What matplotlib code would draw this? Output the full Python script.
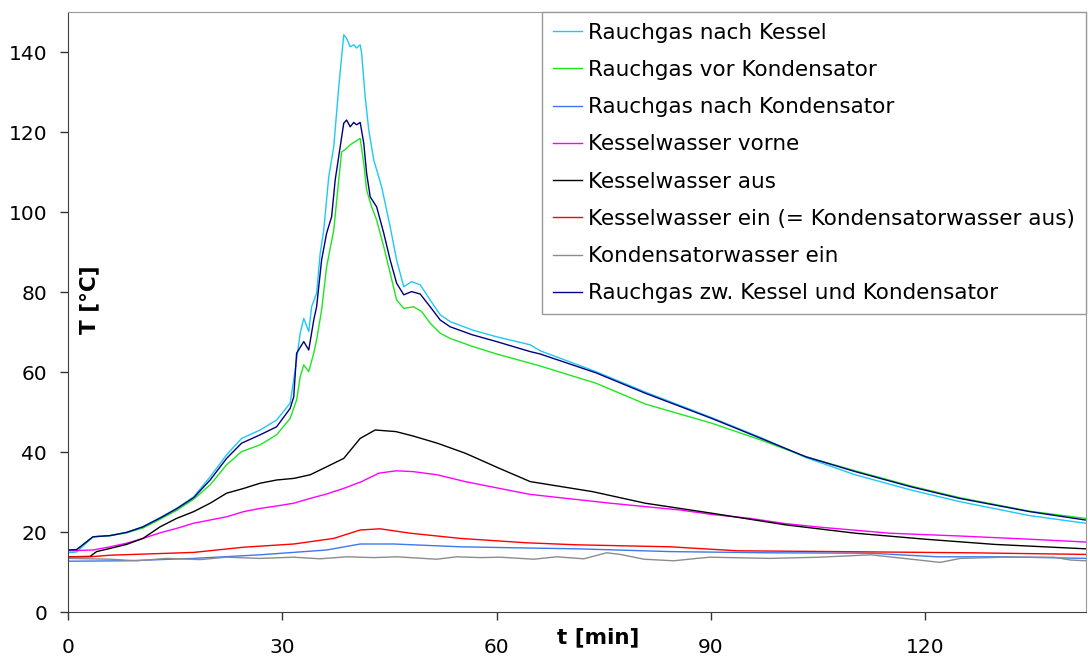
import matplotlib
matplotlib.use("Agg")
import matplotlib.pyplot as plt

plt.rcParams['font.family'] = ['DejaVu Sans']

# Messwerte (t in min, T in °C)
t_rg_nach_kessel = [0, 1.2, 3.5, 5.9, 8.2, 10.5, 12.9, 15.2, 17.6, 19.9, 22.2, 24.3, 26.9, 29.2, 31.1,
                    31.8, 32.5, 33.0, 33.7, 34.1, 34.8, 35.3, 35.8, 36.5, 37.2, 37.9, 38.6, 39.0, 39.5,
                    40.0, 40.4, 40.9, 41.1, 41.6, 42.1, 42.8, 43.9, 45.1, 46.0, 47.0, 48.1, 49.3, 50.7,
                    52.1, 53.5, 56.6, 60.0, 64.7, 66.1, 73.9, 80.8, 90.1, 97.0, 103.3, 110.2, 118.0,
                    124.8, 134.6, 142.4]
T_rg_nach_kessel = [14.8, 15.0, 18.8, 19.1, 19.9, 21.3, 23.6, 25.9, 28.8, 33.8, 39.3, 43.4, 45.5, 48.0, 52.2,
                    60.5, 69.7, 73.4, 70.1, 76.3, 79.7, 89.7, 95.5, 108.8, 116.3, 131.3, 144.3, 143.4, 141.3,
                    141.8, 141.0, 141.8, 139.7, 128.8, 120.5, 113.0, 106.3, 96.3, 88.0, 81.3, 82.6, 81.8, 78.0,
                    74.3, 72.6, 70.5, 68.8, 66.8, 65.3, 60.1, 55.0, 48.6, 43.6, 38.6, 34.3, 30.5,
                    27.6, 24.1, 22.2]

t_rg_vor_kond = [0, 1.2, 3.5, 5.9, 8.2, 10.5, 12.9, 15.2, 17.6, 19.9, 22.2, 24.3, 26.9, 29.2, 31.1, 31.6,
                 32.0, 32.5, 33.0, 33.7, 34.4, 34.8, 35.5, 36.2, 37.2, 37.9, 38.3, 39.0, 39.5, 40.2, 40.9,
                 41.4, 41.8, 42.5, 43.2, 44.2, 45.1, 46.0, 47.0, 48.4, 49.5, 50.7, 52.1, 53.5, 56.6, 60.0,
                 64.7, 66.1, 73.9, 80.8, 90.1, 97.0, 103.3, 110.2, 118.0, 124.8, 134.6, 142.4]
T_rg_vor_kond = [15.5, 15.6, 18.8, 19.1, 19.8, 21.0, 23.2, 25.4, 28.2, 31.8, 36.8, 40.1, 41.8, 44.3, 48.4, 51.0,
                 53.0, 58.8, 61.8, 60.1, 64.7, 68.0, 75.5, 86.3, 95.5, 108.0, 115.0, 115.9, 116.8, 117.6, 118.4,
                 112.2, 105.5, 101.3, 98.0, 91.3, 84.7, 78.0, 75.9, 76.3, 75.1, 72.2, 69.7, 68.4, 66.4, 64.5,
                 62.2, 61.5, 57.2, 52.0, 47.2, 43.0, 38.8, 35.3, 31.5, 28.6, 25.2, 23.4]

t_rg_nach_kond = [0, 8.2, 17.6, 26.9, 36.2, 40.9, 45.6, 54.9, 64.2, 71.2, 84.3, 98.3, 112.3, 121.7, 131.0,
                  142.4]
T_rg_nach_kond = [12.7, 12.8, 13.4, 14.3, 15.5, 17.0, 17.0, 16.3, 16.0, 15.8, 15.1, 14.8, 14.7, 13.8, 13.8,
                  13.4]

t_kw_vorne = [0, 3.5, 5.9, 8.2, 10.5, 12.9, 15.2, 17.6, 19.9, 22.2, 24.6, 26.9, 29.2, 31.6, 33.9, 36.2,
              38.6, 41.1, 43.5, 45.9, 48.3, 51.7, 55.6, 60.4, 64.7, 75.9, 85.7, 90.1, 95.5, 100.4, 105.3,
              115.0, 124.8, 134.6, 142.4]
T_kw_vorne = [15.3, 15.5, 16.3, 17.2, 18.4, 19.8, 20.9, 22.2, 23.0, 23.8, 25.1, 25.9, 26.5, 27.2, 28.4, 29.5,
              30.9, 32.6, 34.7, 35.3, 35.1, 34.3, 32.6, 30.9, 29.4, 27.2, 25.5, 24.4, 23.4, 22.1, 21.2,
              19.7, 19.0, 18.2, 17.5]

t_kw_aus = [0, 3.1, 4.0, 5.9, 8.2, 10.5, 12.9, 15.2, 17.6, 19.9, 22.2, 24.6, 26.9, 29.2, 31.6, 33.9,
            36.2, 38.6, 40.9, 43.0, 45.9, 48.3, 51.7, 55.6, 60.4, 64.7, 73.4, 80.8, 90.1, 100.4, 110.2,
            120.0, 129.7, 142.4]
T_kw_aus = [13.8, 13.9, 15.1, 15.9, 16.9, 18.4, 21.3, 23.4, 25.1, 27.2, 29.7, 30.9, 32.2, 33.0, 33.4, 34.3,
            36.3, 38.4, 43.4, 45.5, 45.1, 44.0, 42.2, 39.7, 35.9, 32.6, 30.1, 27.2, 24.7, 21.8, 19.7,
            18.2, 16.9, 15.8]

t_kw_ein = [0, 3.1, 5.9, 17.6, 24.6, 31.6, 37.2, 40.9, 43.7, 47.9, 54.9, 64.2, 71.2, 84.3, 93.7, 107.7,
            126.3, 142.4]
T_kw_ein = [13.8, 13.8, 14.2, 14.9, 16.2, 17.0, 18.4, 20.5, 20.8, 19.7, 18.4, 17.3, 16.8, 16.3, 15.3, 15.1,
            14.8, 14.4]

t_kondw_ein = [0, 5.9, 9.6, 13.8, 18.5, 22.2, 26.9, 31.6, 35.3, 39.0, 42.8, 46.0, 51.6, 54.4, 57.7, 60.5,
               65.2, 68.4, 72.2, 75.4, 77.3, 80.6, 84.8, 88.0, 89.9, 98.3, 105.3, 112.3, 117.0, 122.1,
               124.9, 131.0, 138.0, 140.3, 142.4]
T_kondw_ein = [13.4, 13.2, 12.8, 13.4, 13.1, 13.7, 13.4, 13.7, 13.3, 13.8, 13.6, 13.8, 13.2, 13.8, 13.6, 13.7,
               13.2, 13.8, 13.3, 14.8, 14.4, 13.2, 12.8, 13.4, 13.7, 13.4, 13.7, 14.3, 13.4, 12.4,
               13.4, 13.7, 13.7, 13.0, 12.8]

t_rg_zw = [0, 1.2, 3.5, 5.9, 8.2, 10.5, 12.9, 15.2, 17.6, 19.9, 22.2, 24.3, 26.9, 29.2, 31.1, 31.6,
           32.0, 33.0, 33.7, 34.4, 34.8, 35.5, 36.2, 36.9, 37.4, 38.1, 38.6, 39.0, 39.5, 40.0, 40.4,
           40.9, 41.4, 41.8, 42.3, 43.2, 44.2, 45.1, 46.0, 47.0, 48.1, 49.3, 50.7, 52.1, 53.5, 56.6,
           60.0, 64.7, 66.1, 73.9, 80.8, 90.1, 97.0, 103.3, 110.2, 118.0, 124.8, 134.6, 142.4]
T_rg_zw = [15.5, 15.6, 18.8, 19.1, 19.9, 21.3, 23.5, 25.8, 28.6, 33.0, 38.4, 42.2, 44.3, 46.3, 50.9, 53.8,
           64.7, 67.6, 65.5, 73.0, 76.3, 88.0, 94.7, 98.8, 108.0, 116.3, 122.2, 123.0, 121.3, 122.4, 121.8,
           122.4, 117.2, 109.7, 103.8, 101.3, 94.7, 88.0, 82.2, 79.3, 80.1, 79.5, 76.3, 73.0, 71.3, 69.3,
           67.6, 65.1, 64.5, 59.8, 54.7, 48.4, 43.4, 38.8, 35.1, 31.3, 28.4, 25.1, 23.0]

labels = ['Rauchgas nach Kessel', 'Rauchgas vor Kondensator', 'Rauchgas nach Kondensator',
          'Kesselwasser vorne', 'Kesselwasser aus', 'Kesselwasser ein (= Kondensatorwasser aus)',
          'Kondensatorwasser ein', 'Rauchgas zw. Kessel und Kondensator']
colors = ['#1ec8f5', '#1ee61e', '#3c78f0', '#ff00ff', '#000000', '#ff0000', '#8c8c8c', '#000080']

series = [(t_rg_nach_kessel, T_rg_nach_kessel), (t_rg_vor_kond, T_rg_vor_kond),
          (t_rg_nach_kond, T_rg_nach_kond), (t_kw_vorne, T_kw_vorne), (t_kw_aus, T_kw_aus),
          (t_kw_ein, T_kw_ein), (t_kondw_ein, T_kondw_ein), (t_rg_zw, T_rg_zw)]

fig = plt.figure(figsize=(10.88, 6.61), dpi=100)
ax = fig.add_axes([68 / 1088, 49 / 661, 1018 / 1088, 600 / 661])

for (t, T), lab, col in zip(series, labels, colors):
    ax.plot(t, T, color=col, linewidth=1.0, label=lab)

ax.set_xlim(0, 142.5)
ax.set_ylim(0, 150)
ax.set_xticks([0, 30, 60, 90, 120])
ax.set_yticks(range(0, 141, 20))
ax.tick_params(direction='out', length=6, width=1, colors='#333333', labelcolor='black',
               labelsize=14.5)
ax.tick_params(axis='x', pad=13)
ax.tick_params(axis='y', pad=9)
for s in ['left', 'bottom']:
    ax.spines[s].set_color('#404040')
for s in ['top', 'right']:
    ax.spines[s].set_color('#999999')

# Achsenbeschriftungen
ax.text(0.021, 0.52, 'T [°C]', transform=ax.transAxes, rotation=90, fontsize=15.5,
        fontweight='bold', ha='center', va='center')
fig.text(0.5496, 0.0363, 't [min]', fontsize=15.5, fontweight='bold', ha='center', va='center')

L = ax.legend(loc='upper right', bbox_to_anchor=(1, 1), borderaxespad=0, fontsize=15.5,
              frameon=True, fancybox=False, framealpha=1, edgecolor='#999999',
              handlelength=1.35, handletextpad=0.3, labelspacing=0.8, borderpad=0.5)
L.get_frame().set_linewidth(1.0)

fig.savefig('out.png', dpi=100)
